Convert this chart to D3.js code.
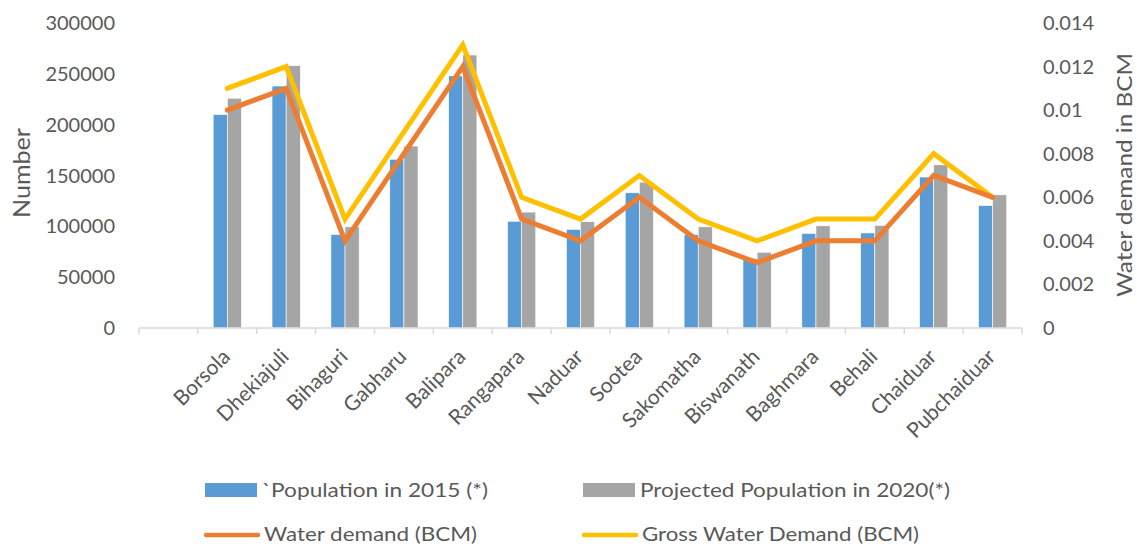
<!DOCTYPE html>
<html>
<head>
<meta charset="utf-8">
<script src="https://cdn.jsdelivr.net/npm/d3@7"></script>
<style>
  html, body { margin: 0; padding: 0; background: #fff; }
  svg text { font-family: Lato, "Open Sans", sans-serif; fill: #595959; }
</style>
</head>
<body>
<svg id="chart" width="1137" height="547"></svg>
<script>
// Blocks of the district, population and water demand
const categories = ["Borsola", "Dhekiajuli", "Bihaguri", "Gabharu", "Balipara", "Rangapara", "Naduar",
  "Sootea", "Sakomatha", "Biswanath", "Baghmara", "Behali", "Chaiduar", "Pubchaiduar"];
const population2015 = [210000, 238000, 92000, 166000, 248000, 105000, 97000,
  133000, 92000, 68500, 93000, 93500, 148500, 120500];
const population2020 = [226000, 258000, 99500, 179000, 268500, 114000, 104500,
  143500, 99500, 74500, 100500, 101000, 160500, 131000];
const waterDemand = [0.010, 0.011, 0.004, 0.008, 0.012, 0.005, 0.004,
  0.006, 0.004, 0.003, 0.004, 0.004, 0.007, 0.006];
const grossWaterDemand = [0.011, 0.012, 0.005, 0.009, 0.013, 0.006, 0.005,
  0.007, 0.005, 0.004, 0.005, 0.005, 0.008, 0.006];
const leftTicks = [0, 50000, 100000, 150000, 200000, 250000, 300000];
const rightTicks = [0, 0.002, 0.004, 0.006, 0.008, 0.01, 0.012, 0.014];

const colors = { pop15: "#5B9BD5", pop20: "#A5A5A5", water: "#ED7D31", gross: "#FFC000" };

const svg = d3.select("#chart");
const plot = { left: 139, right: 1022, top: 23, bottom: 328 };

// one leading empty slot on the category axis
const slots = [""].concat(categories);
const x = d3.scaleBand().domain(slots).range([plot.left, plot.right]);
const xInner = d3.scaleBand().domain(["p15", "p20"])
  .range([0, x.bandwidth() * 0.48]);
const yLeft = d3.scaleLinear().domain([0, 300000]).range([plot.bottom, plot.top]);
const yRight = d3.scaleLinear().domain([0, 0.014]).range([plot.bottom, plot.top]);

const center = d => x(d) + x.bandwidth() / 2;
const groupOffset = x.bandwidth() * 0.26;

// bars
const bars = svg.append("g");
categories.forEach((c, i) => {
  const g = bars.append("g").attr("transform", `translate(${x(c) + groupOffset},0)`);
  g.append("rect")
    .attr("x", xInner("p15")).attr("width", xInner.bandwidth())
    .attr("y", yLeft(population2015[i])).attr("height", yLeft(0) - yLeft(population2015[i]))
    .attr("fill", colors.pop15).attr("stroke", "#fff").attr("stroke-width", 0.6);
  g.append("rect")
    .attr("x", xInner("p20")).attr("width", xInner.bandwidth())
    .attr("y", yLeft(population2020[i])).attr("height", yLeft(0) - yLeft(population2020[i]))
    .attr("fill", colors.pop20).attr("stroke", "#fff").attr("stroke-width", 0.6);
});

// x axis
const xAxis = svg.append("g").attr("transform", `translate(0,${plot.bottom})`);
xAxis.append("line").attr("x1", plot.left).attr("x2", plot.right)
  .attr("stroke", "#D9D9D9").attr("stroke-width", 1.5);
slots.forEach(s => {
  xAxis.append("line").attr("x1", x(s)).attr("x2", x(s)).attr("y1", 0).attr("y2", 6)
    .attr("stroke", "#D9D9D9").attr("stroke-width", 1.5);
});
xAxis.append("line").attr("x1", plot.right).attr("x2", plot.right).attr("y1", 0).attr("y2", 6)
  .attr("stroke", "#D9D9D9").attr("stroke-width", 1.5);
categories.forEach(c => {
  svg.append("text")
    .attr("transform", `translate(${center(c) + 4},${plot.bottom + 30}) rotate(-45)`)
    .attr("text-anchor", "end")
    .style("font-size", "21px").text(c);
});

// left axis labels
leftTicks.forEach(t => {
  svg.append("text").attr("x", 115).attr("y", yLeft(t)).attr("dy", "0.35em")
    .attr("text-anchor", "end").style("font-size", "20px").text(t);
});
// right axis labels
rightTicks.forEach(t => {
  svg.append("text").attr("x", 1043).attr("y", yRight(t)).attr("dy", "0.35em")
    .attr("text-anchor", "start").style("font-size", "20px").text(t);
});

// axis titles
svg.append("text").attr("transform", `translate(30,173) rotate(-90)`)
  .attr("text-anchor", "middle").style("font-size", "23px")
  .attr("textLength", 90).attr("lengthAdjust", "spacingAndGlyphs").text("Number");
svg.append("text").attr("transform", `translate(1132,175) rotate(-90)`)
  .attr("text-anchor", "middle").style("font-size", "22px")
  .attr("textLength", 244).attr("lengthAdjust", "spacingAndGlyphs").text("Water demand in BCM");

// lines
const lineGen = vals => d3.line()
  .x((d, i) => center(categories[i]))
  .y(d => yRight(d))(vals);
svg.append("path").attr("d", lineGen(grossWaterDemand))
  .attr("fill", "none").attr("stroke", colors.gross).attr("stroke-width", 5)
  .attr("stroke-linejoin", "miter").attr("stroke-linecap", "round");
svg.append("path").attr("d", lineGen(waterDemand))
  .attr("fill", "none").attr("stroke", colors.water).attr("stroke-width", 5)
  .attr("stroke-linejoin", "miter").attr("stroke-linecap", "round");

// legend
const legend = svg.append("g");
const legendItems = [
  { label: "`Population in 2015 (*)", color: colors.pop15, type: "rect", x: 205, y: 497, w: 226 },
  { label: "Projected Population in 2020(*)", color: colors.pop20, type: "rect", x: 583, y: 497, w: 310 },
  { label: "Water demand (BCM)", color: colors.water, type: "line", x: 204, y: 541, w: 213 },
  { label: "Gross Water Demand (BCM)", color: colors.gross, type: "line", x: 582, y: 541, w: 277 }
];
legendItems.forEach(it => {
  if (it.type === "rect") {
    legend.append("rect").attr("x", it.x).attr("y", it.y - 14).attr("width", 52).attr("height", 14)
      .attr("fill", it.color);
    legend.append("text").attr("x", it.x + 57).attr("y", it.y)
      .style("font-size", "20px")
      .attr("textLength", it.w).attr("lengthAdjust", "spacingAndGlyphs").text(it.label);
  } else {
    legend.append("line").attr("x1", it.x + 2).attr("x2", it.x + 54).attr("y1", it.y - 6).attr("y2", it.y - 6)
      .attr("stroke", it.color).attr("stroke-width", 4.5).attr("stroke-linecap", "round");
    legend.append("text").attr("x", it.x + 60).attr("y", it.y)
      .style("font-size", "20px")
      .attr("textLength", it.w).attr("lengthAdjust", "spacingAndGlyphs").text(it.label);
  }
});
</script>
</body>
</html>
